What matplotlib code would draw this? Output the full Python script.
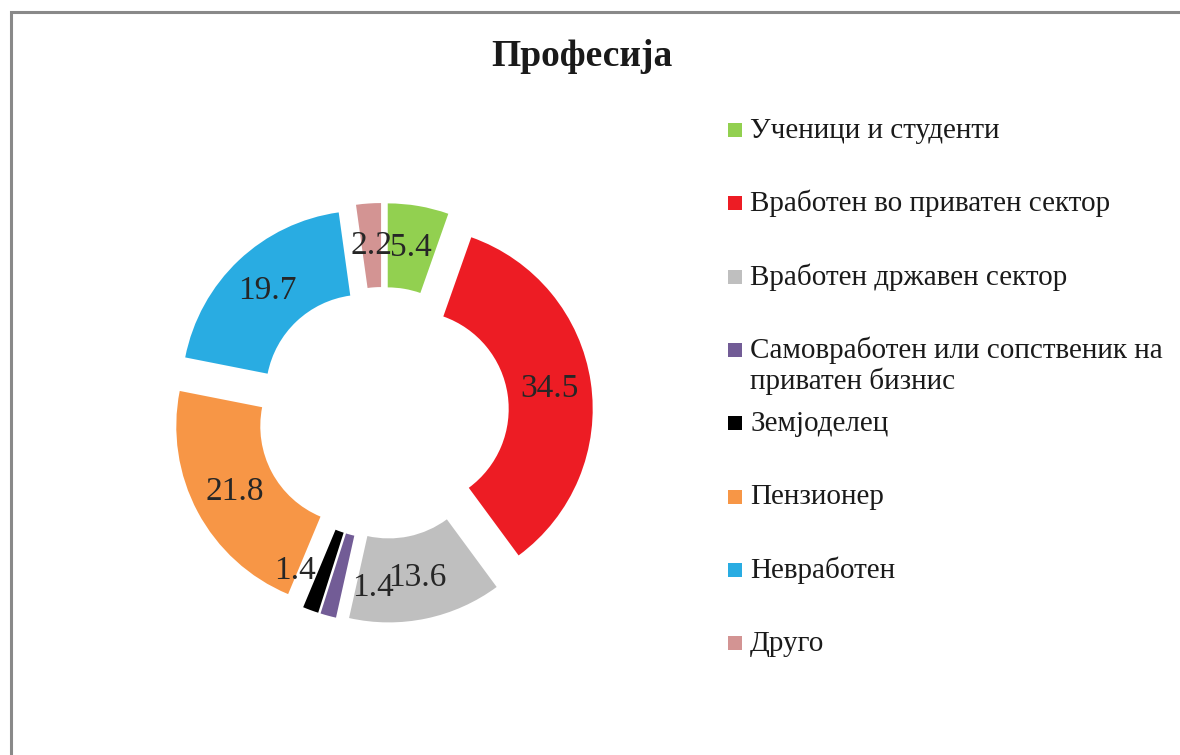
import matplotlib
matplotlib.use("Agg")
import matplotlib.pyplot as plt
from matplotlib.patches import Rectangle

categories = ["Ученици и студенти", "Вработен во приватен сектор",
              "Вработен државен сектор",
              "Самовработен или сопственик на\nприватен бизнис",
              "Земјоделец", "Пензионер", "Невработен", "Друго"]
values = [5.4, 34.5, 13.6, 1.4, 1.4, 21.8, 19.7, 2.2]
colors = ["#92D050", "#ED1C24", "#BFBFBF", "#725C96", "#000000",
          "#F79646", "#29ACE2", "#D39493"]
title = "Професија"

plt.rcParams['font.family'] = ['Liberation Serif', 'DejaVu Serif']

W, H = 1180, 755
fig = plt.figure(figsize=(W / 100, H / 100), dpi=100)
ax = fig.add_axes([0, 0, 1, 1])
ax.set_xlim(0, W)
ax.set_ylim(0, H)
ax.set_aspect('equal')
ax.axis('off')

R = 182
ring = 84
expl = 28
cx, cy = 383, H - 413

wedges, texts, autotexts = ax.pie(
    values, colors=colors, startangle=90, counterclock=False,
    center=(cx, cy), radius=R, explode=[expl] * len(values),
    wedgeprops=dict(width=ring, linewidth=0),
    autopct=lambda p: f"{p:.1f}", pctdistance=(R - ring / 2) / R,
    textprops=dict(fontsize=24, color="#262626"))
ax.set_xlim(0, W)
ax.set_ylim(0, H)

# small-slice labels nudged apart as in the original
shift = {3: (34, -13), 4: (-30, 0)}
for i, t in enumerate(autotexts):
    t.set_text(f"{values[i]:.1f}")
    if i in shift:
        x, y = t.get_position()
        t.set_position((x + shift[i][0], y + shift[i][1]))

# title
ax.text(582, H - 57, title, ha='center', va='center', fontsize=27,
        fontweight='bold', color="#1a1a1a")

# legend
x0, y0, step, sq = 728, H - 130, 73.3, 14
line_h = 31
for i, (lab, col) in enumerate(zip(categories, colors)):
    yc = y0 - i * step
    ax.add_patch(Rectangle((x0, yc - sq / 2), sq, sq, facecolor=col,
                           edgecolor='none'))
    for j, line in enumerate(lab.split("\n")):
        ax.text(x0 + 22, yc - 8 - j * line_h, line, ha='left',
                va='baseline', fontsize=21, color="#1a1a1a")

# frame
ax.add_patch(Rectangle((10.5, -20), W + 50, H - 11.5 + 20, fill=False,
                       edgecolor="#898989", linewidth=2.2, clip_on=False))

fig.savefig("out.png", dpi=100)
